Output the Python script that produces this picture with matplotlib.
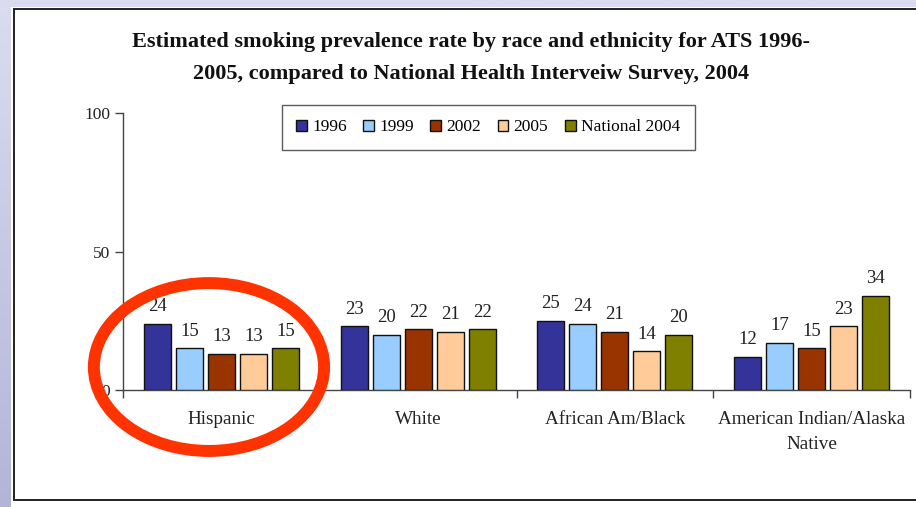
import matplotlib
matplotlib.use("Agg")
import matplotlib.pyplot as plt
import numpy as np
from matplotlib.patches import Rectangle, Ellipse
from matplotlib.colors import LinearSegmentedColormap

categories = ["Hispanic", "White", "African Am/Black", "American Indian/Alaska\nNative"]
series_names = ["1996", "1999", "2002", "2005", "National 2004"]
v1996 = [24, 23, 25, 12]
v1999 = [15, 20, 24, 17]
v2002 = [13, 22, 21, 15]
v2005 = [13, 21, 14, 23]
vnat = [15, 22, 20, 34]
series_values = [v1996, v1999, v2002, v2005, vnat]
colors = ["#333399", "#99CCFF", "#993300", "#FFCC99", "#808000"]
yticks = [0, 50, 100]
title = ("Estimated smoking prevalence rate by race and ethnicity for ATS 1996-\n"
         "2005, compared to National Health Interveiw Survey, 2004")

W, H = 916, 507
fig = plt.figure(figsize=(W / 100, H / 100), dpi=100)
plt.rcParams['font.family'] = ['Liberation Serif', 'DejaVu Serif']

# background gradient (slide margin)
bg = fig.add_axes([0, 0, 1, 1], zorder=-10)
grad = np.linspace(0, 1, 256).reshape(-1, 1)
cmap = LinearSegmentedColormap.from_list("lav", ["#DCDCF0", "#B4B4D8"])
bg.imshow(grad, aspect="auto", cmap=cmap, extent=[0, 1, 0, 1], origin="upper")
bg.set_xlim(0, 1); bg.set_ylim(0, 1)
bg.axis("off")
bg.add_patch(Rectangle((11 / W, 0), 1, 1 - 7 / H, transform=bg.transAxes,
                       facecolor="white", edgecolor="none", zorder=1))
bg.add_patch(Rectangle((13.5 / W, 1 - 500 / H), 1, (500 - 9) / H, transform=bg.transAxes,
                       facecolor="white", edgecolor="#222222", lw=1.4, zorder=2))

ax = fig.add_axes([123 / W, 1 - 390 / H, (910 - 123) / W, (390 - 113) / H])
ax.set_facecolor("none")
n = len(series_names)
x = np.arange(len(categories))
pitch = 0.1625
bw = 0.137
for i, (name, vals, c) in enumerate(zip(series_names, series_values, colors)):
    pos = x + (i - (n - 1) / 2) * pitch
    bars = ax.bar(pos, vals, width=bw, color=c, edgecolor="#111111", linewidth=1.0,
                  label=name, zorder=3)
    for b, v in zip(bars, vals):
        ax.annotate(str(v), (b.get_x() + b.get_width() / 2, v), xytext=(0, 9),
                    textcoords="offset points", ha="center", va="baseline",
                    fontsize=13.5, color="#222222")

ax.set_xlim(-0.5, len(categories) - 0.5)
ax.set_ylim(0, 100)
ax.set_yticks(yticks)
ax.set_yticklabels([str(t) for t in yticks], fontsize=12.5, color="#222222")
ax.tick_params(axis="y", direction="out", length=6, width=1, color="#444444", pad=3)
ax.set_xticks(np.arange(-0.5, len(categories), 1.0))
ax.set_xticklabels([])
ax.tick_params(axis="x", which="major", direction="out", length=6, width=1, color="#444444")
ax.set_xticks(x, minor=True)
ax.set_xticklabels(categories, minor=True, fontsize=13.8, color="#222222", linespacing=1.6)
ax.tick_params(axis="x", which="minor", length=0, pad=15)
for s in ["top", "right"]:
    ax.spines[s].set_visible(False)
for s in ["left", "bottom"]:
    ax.spines[s].set_color("#444444")
    ax.spines[s].set_linewidth(1.0)

leg = ax.legend(loc="center", bbox_to_anchor=(0.464, 0.948), ncol=5, frameon=True,
                fancybox=False, edgecolor="#333333", fontsize=12.5, handlelength=0.62,
                handleheight=0.62, handletextpad=0.3, columnspacing=0.95,
                borderpad=0.85, borderaxespad=0)
leg.get_frame().set_linewidth(1.0)

fig.text(471 / W, 1 - 58 / H, title, ha="center", va="center", fontsize=16,
         fontweight="bold", linespacing=1.75, color="#111111")

# red highlight ellipse around Hispanic group
ell = Ellipse((x[0] - 0.063, 8.3), 1.17, 60.6, transform=ax.transData, fill=False,
              edgecolor="#FF3300", linewidth=8.6, clip_on=False, zorder=10)
ax.add_patch(ell)

fig.savefig("out.png", dpi=100)
